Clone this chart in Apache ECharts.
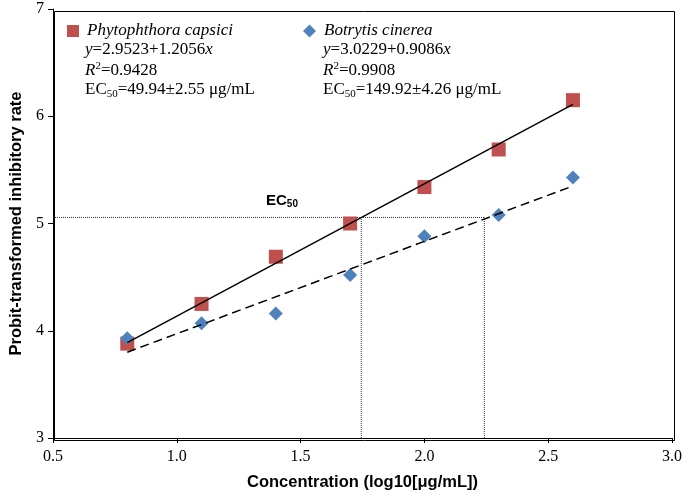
<!DOCTYPE html>
<html><head><meta charset="utf-8">
<script src="https://cdn.jsdelivr.net/npm/echarts@6/dist/echarts.min.js"></script>
<style>html,body{margin:0;padding:0;background:#fff}#c{width:689px;height:496px}</style>
</head><body><div id="c"></div>
<script>
// ---- data ----
const concentrations = [0.8, 1.1, 1.4, 1.7, 2.0, 2.3, 2.6];
const phytophthoraProbit = [3.88, 4.25, 4.69, 5.00, 5.34, 5.69, 6.15];
const botrytisProbit = [3.93, 4.07, 4.16, 4.52, 4.88, 5.08, 5.43];
const phytoFitX = [0.8, 2.6];
const phytoFitY = [3.89, 6.11];
const botryFitX = [0.8, 2.6];
const botryFitY = [3.80, 5.35];
const ec50Level = 5.056;
const ec50LogConc = [1.745, 2.242];
const xTicks = [0.5, 1.0, 1.5, 2.0, 2.5, 3.0];
const yTicks = [3, 4, 5, 6, 7];
const seriesNames = ['Phytophthora capsici', 'Botrytis cinerea'];

const zip = (xs, ys) => xs.map((x, i) => [x, ys[i]]);
const serif = 'Liberation Serif, Times New Roman, serif';
const sans = 'Liberation Sans, Arial, sans-serif';
const RED = '#C0504D', BLUE = '#4F81BD';
const FS = 17;

const chart = echarts.init(document.getElementById('c'));
const rich = {
  n: {fontFamily: serif, fontSize: FS, color: '#000', lineHeight: 20},
  i: {fontFamily: serif, fontSize: FS, fontStyle: 'italic', color: '#000', lineHeight: 20},
  sup: {fontFamily: serif, fontSize: 11, color: '#000', verticalAlign: 'top', lineHeight: 12},
  sub: {fontFamily: serif, fontSize: 11, color: '#000', verticalAlign: 'bottom', lineHeight: 12}
};
function txt(x, y, t) {
  return {type: 'text', left: x, top: y, style: {text: t, rich: rich, font: FS + 'px ' + serif, fill: '#000'}};
}
const legendText = {fontFamily: serif, fontStyle: 'italic', fontSize: FS, color: '#000', lineHeight: 20, padding: [0, 0, 0, 3]};
chart.setOption({
  animation: false,
  grid: {left: 52, right: 17, top: 9, bottom: 58},
  xAxis: {
    type: 'value', min: 0.5, max: 3.0, interval: 0.5,
    name: 'Concentration (log10[μg/mL])', nameLocation: 'middle', nameGap: 36,
    nameTextStyle: {fontFamily: sans, fontWeight: 'bold', fontSize: 16.5, color: '#000'},
    axisLine: {lineStyle: {color: '#000', width: 1}},
    axisTick: {show: true, inside: false, length: 5, lineStyle: {color: '#000'}},
    axisLabel: {fontFamily: serif, fontSize: 16, color: '#000', margin: 11, formatter: v => xTicks.includes(v) ? v.toFixed(1) : ''},
    splitLine: {show: false}
  },
  yAxis: {
    type: 'value', min: 3, max: 7, interval: 1,
    name: 'Probit-transformed inhibitory rate', nameLocation: 'middle', nameGap: 28,
    nameTextStyle: {fontFamily: sans, fontWeight: 'bold', fontSize: 16.5, color: '#000'},
    axisLine: {show: true, lineStyle: {color: '#000', width: 1}},
    axisTick: {show: true, inside: false, length: 5, lineStyle: {color: '#000'}},
    axisLabel: {fontFamily: serif, fontSize: 16, color: '#000', margin: 9, formatter: v => yTicks.includes(v) ? String(v) : ''},
    splitLine: {show: false}
  },
  legend: [
    {data: [{name: seriesNames[0], icon: 'rect'}], left: 67, top: 21, padding: 0, itemWidth: 12, itemHeight: 12, itemGap: 0,
     textStyle: legendText},
    {data: [{name: seriesNames[1], icon: 'diamond'}], left: 303, top: 21, padding: 0, itemWidth: 13, itemHeight: 13, itemGap: 0,
     textStyle: legendText}
  ],
  graphic: [
    {type: 'rect', left: 52, top: 9, shape: {width: 620, height: 429}, style: {fill: 'none', stroke: '#000', lineWidth: 1}, silent: true},
    txt(85, 41, '{i|y}{n|=2.9523+1.2056}{i|x}'),
    txt(85, 61, '{i|R}{sup|2}{n|=0.9428}'),
    txt(85, 81, '{n|EC}{sub|50}{n|=49.94±2.55 μg/mL}'),
    txt(323, 41, '{i|y}{n|=3.0229+0.9086}{i|x}'),
    txt(323, 61, '{i|R}{sup|2}{n|=0.9908}'),
    txt(323, 81, '{n|EC}{sub|50}{n|=149.92±4.26 μg/mL}'),
    {type: 'text', left: 266, top: 193, style: {
      text: '{a|EC}{b|50}', rich: {
        a: {fontFamily: sans, fontWeight: 'bold', fontSize: 15, color: '#000', lineHeight: 18},
        b: {fontFamily: sans, fontWeight: 'bold', fontSize: 10, color: '#000', verticalAlign: 'bottom', lineHeight: 10}
      }}}
  ],
  series: [
    {name: 'ec50h', type: 'line', data: [[0.5, ec50Level], [ec50LogConc[1], ec50Level]], symbol: 'none',
     lineStyle: {type: 'dotted', color: '#333', width: 1}, silent: true},
    {name: 'ec50v1', type: 'line', data: [[ec50LogConc[0], 3], [ec50LogConc[0], ec50Level]], symbol: 'none',
     lineStyle: {type: 'dotted', color: '#333', width: 1}, silent: true},
    {name: 'ec50v2', type: 'line', data: [[ec50LogConc[1], 3], [ec50LogConc[1], ec50Level]], symbol: 'none',
     lineStyle: {type: 'dotted', color: '#333', width: 1}, silent: true},
    {name: seriesNames[0], type: 'scatter', data: zip(concentrations, phytophthoraProbit), symbol: 'rect', symbolSize: 14,
     itemStyle: {color: RED, opacity: 1}, z: 3},
    {name: seriesNames[1], type: 'scatter', data: zip(concentrations, botrytisProbit), symbol: 'diamond', symbolSize: 14,
     itemStyle: {color: BLUE, opacity: 1}, z: 3},
    {name: 'fit1', type: 'line', data: zip(phytoFitX, phytoFitY), symbol: 'none',
     lineStyle: {color: '#000', width: 1.5}, z: 4},
    {name: 'fit2', type: 'line', data: zip(botryFitX, botryFitY), symbol: 'none',
     lineStyle: {color: '#000', width: 1.5, type: [9, 5]}, z: 4}
  ]
});
</script></body></html>
